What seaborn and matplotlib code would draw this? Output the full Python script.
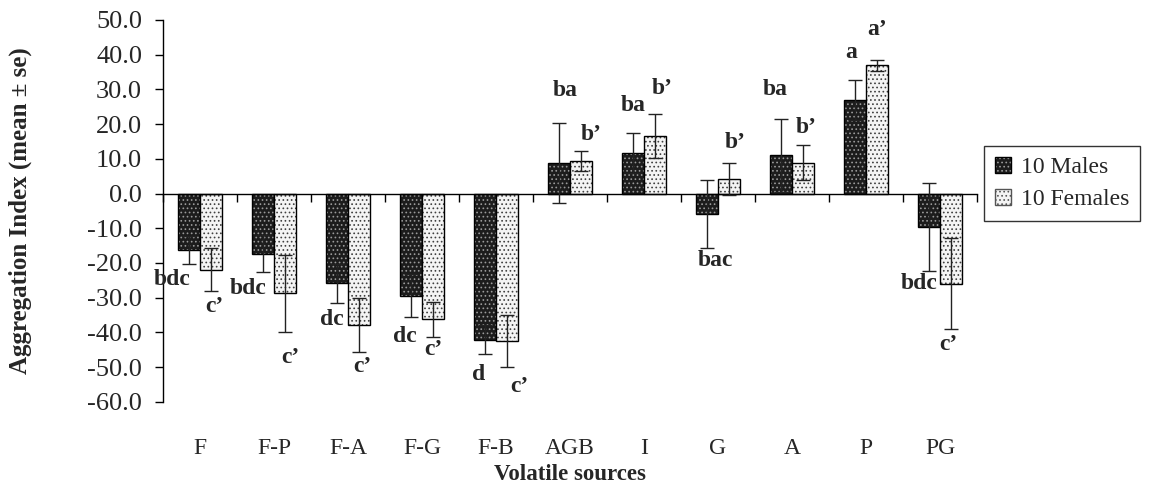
import numpy as np
import pandas as pd
import matplotlib
matplotlib.use("Agg")
import matplotlib.pyplot as plt
import matplotlib.transforms as mtransforms
from matplotlib.patches import Patch
import seaborn as sns

# ---------------- data ----------------
sources = ["F", "F-P", "F-A", "F-G", "F-B", "AGB", "I", "G", "A", "P", "PG"]
groups = ["10 Males", "10 Females"]
male_mean = [-16.3, -17.3, -25.9, -29.4, -42.1, 8.8, 11.6, -5.8, 11.0, 26.9, -9.7]
male_se = [4.1, 5.3, 5.6, 6.3, 4.1, 11.5, 5.8, 9.8, 10.6, 5.7, 12.6]
female_mean = [-22.0, -28.8, -37.8, -36.3, -42.6, 9.4, 16.5, 4.2, 8.9, 36.9, -26.0]
female_se = [6.2, 11.2, 7.8, 5.0, 7.5, 2.9, 6.3, 4.6, 5.1, 1.6, 13.1]
male_letters = ["bdc", "bdc", "dc", "dc", "d", "ba", "ba", "bac", "ba", "a", "bdc"]
female_letters = ["c\u2019", "c\u2019", "c\u2019", "c\u2019", "c\u2019", "b\u2019",
                  "b\u2019", "b\u2019", "b\u2019", "a\u2019", "c\u2019"]
yticks = [50, 40, 30, 20, 10, 0, -10, -20, -30, -40, -50, -60]

# layout of the significance letters: (x offset from category centre, y)
male_letter_pos = [(-0.38, -24.7), (-0.35, -27.3), (-0.22, -36.3), (-0.23, -41.1),
                   (-0.23, -52.2), (-0.07, 29.7), (-0.15, 25.4), (-0.04, -19.3),
                   (-0.22, 29.9), (-0.20, 40.5), (-0.28, -26.0)]
female_letter_pos = [(0.20, -32.5), (0.22, -47.4), (0.19, -49.8), (0.16, -45.0),
                     (0.31, -55.5), (0.29, 17.0), (0.25, 30.4), (0.23, 14.8),
                     (0.19, 18.9), (0.15, 47.3), (0.11, -43.5)]

df = pd.DataFrame({
    "source": sources * 2,
    "group": [groups[0]] * len(sources) + [groups[1]] * len(sources),
    "value": male_mean + female_mean,
})

# ---------------- style ----------------
sns.set_theme(style="white")
plt.rcParams["font.family"] = ["Liberation Serif", "DejaVu Serif"]
plt.rcParams["hatch.linewidth"] = 0.7

fig = plt.figure(figsize=(11.52, 4.88), dpi=100)
ax = fig.add_axes([163 / 1152, 1 - 401.7 / 488, 814 / 1152, 381.7 / 488])

sns.barplot(data=df, x="source", y="value", hue="group", order=sources,
            hue_order=groups, errorbar=None, width=0.6, dodge=True,
            palette=["#1c1c1c", "#f4f4f4"], edgecolor="black", linewidth=1.0,
            saturation=1, legend=False, ax=ax)

hatch_cols = ["#9a9a9a", "#404040"]
for cont, hc in zip(ax.containers, hatch_cols):
    for bar in cont:
        bar.set_hatch("....")
        if hasattr(bar, "set_hatchcolor"):
            bar.set_hatchcolor(hc)
        else:
            bar._hatch_color = matplotlib.colors.to_rgba(hc)

# error bars
for cont, se in zip(ax.containers, [male_se, female_se]):
    xs = [b.get_x() + b.get_width() / 2 for b in cont]
    ys = [b.get_height() for b in cont]
    ax.errorbar(xs, ys, yerr=se, fmt="none", ecolor="#222222", elinewidth=1.0,
                capsize=5, capthick=1.0, zorder=5)

# axes formatting
ax.set_xlim(-0.5, len(sources) - 0.5)
ax.set_ylim(-60, 50)
ax.set_yticks(yticks)
ax.set_yticklabels([f"{v:.1f}" for v in yticks], fontsize=19)
ax.spines["top"].set_visible(False)
ax.spines["right"].set_visible(False)
ax.spines["bottom"].set_position(("data", 0))
for sp in ["left", "bottom"]:
    ax.spines[sp].set_color("black")
    ax.spines[sp].set_linewidth(1.0)
ax.set_xticks(np.arange(len(sources) + 1) - 0.5)
ax.set_xticklabels([])
ax.tick_params(axis="x", direction="out", length=6, width=1, color="black", bottom=True)
ax.tick_params(axis="y", direction="out", length=6, width=1, color="black", left=True, pad=9)
ax.set_xlabel("")
ax.set_ylabel("")

trans = mtransforms.blended_transform_factory(ax.transData, ax.transAxes)
for i, s in enumerate(sources):
    ax.text(i, -0.137, s, transform=trans, ha="center", va="baseline", fontsize=17)

ax.text(0.5, -0.205, "Volatile sources", transform=ax.transAxes, ha="center",
        va="baseline", fontsize=16.5, fontweight="bold")
fig.text(20 / 1152, 1 - 211 / 488, "Aggregation Index (mean \u00b1 se)", rotation=90,
         ha="center", va="center", fontsize=18, fontweight="bold")

# significance letters
for i in range(len(sources)):
    dx, y = male_letter_pos[i]
    ax.text(i + dx, y, male_letters[i], ha="center", va="center", fontsize=17,
            fontweight="bold", zorder=6)
    dx, y = female_letter_pos[i]
    ax.text(i + dx, y, female_letters[i], ha="center", va="center", fontsize=17,
            fontweight="bold", zorder=6)

# legend
handles = [Patch(facecolor="#1c1c1c", edgecolor="black", hatch="...."),
           Patch(facecolor="#f4f4f4", edgecolor="#555555", hatch="....")]
handles[0]._hatch_color = matplotlib.colors.to_rgba("#9a9a9a")
leg = fig.legend(handles, groups, loc="upper left", bbox_to_anchor=(984 / 1152, 1 - 146 / 488),
                 frameon=True, fancybox=False, edgecolor="black", fontsize=17,
                 handlelength=0.7, handleheight=0.7, handletextpad=0.4,
                 borderpad=0.45, labelspacing=0.45, borderaxespad=0)
leg.get_frame().set_linewidth(1.0)

fig.savefig("out.png", dpi=100)
